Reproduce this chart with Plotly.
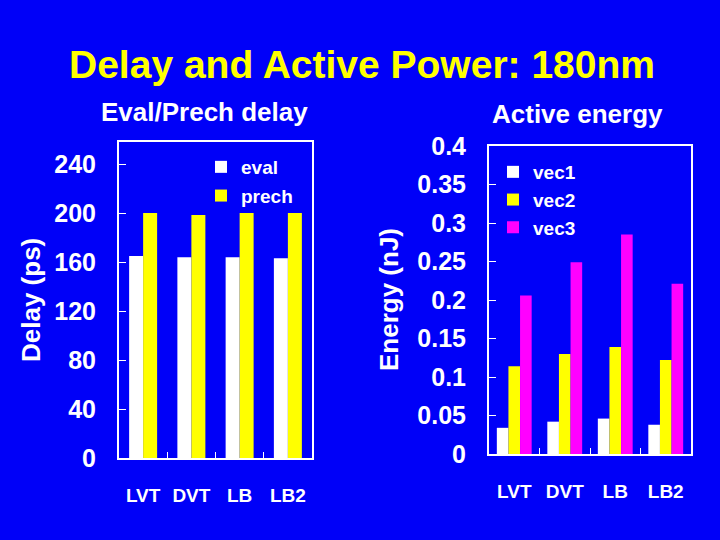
import plotly.graph_objects as go

categories = ["LVT", "DVT", "LB", "LB2"]

eval_delay = [165, 164, 164, 163]
prech_delay = [200, 198.5, 200, 200]

vec1_energy = [0.034, 0.042, 0.046, 0.038]
vec2_energy = [0.114, 0.130, 0.139, 0.122]
vec3_energy = [0.206, 0.249, 0.285, 0.221]

delay_ticks = [0, 40, 80, 120, 160, 200, 240]
energy_ticks = [0, 0.05, 0.1, 0.15, 0.2, 0.25, 0.3, 0.35, 0.4]

BG = "#0000F8"
FONT = "Liberation Sans, Arial, sans-serif"

fig = go.Figure()

# Left chart
lw = 0.29
fig.add_trace(go.Bar(x=categories, y=eval_delay, name="eval", marker_color="white",
                     marker_line_width=0, width=lw, offset=-lw,
                     xaxis="x", yaxis="y", legend="legend", legendgroup="a"))
fig.add_trace(go.Bar(x=categories, y=prech_delay, name="prech", marker_color="#FFFF00",
                     marker_line_width=0, width=lw, offset=0,
                     xaxis="x", yaxis="y", legend="legend", legendgroup="b"))

# Right chart
rw = 0.23
fig.add_trace(go.Bar(x=categories, y=vec1_energy, name="vec1", marker_color="white",
                     marker_line_width=0, width=rw, offset=-1.5 * rw,
                     xaxis="x2", yaxis="y2", legend="legend2", legendgroup="c"))
fig.add_trace(go.Bar(x=categories, y=vec2_energy, name="vec2", marker_color="#FFFF00",
                     marker_line_width=0, width=rw, offset=-0.5 * rw,
                     xaxis="x2", yaxis="y2", legend="legend2", legendgroup="d"))
fig.add_trace(go.Bar(x=categories, y=vec3_energy, name="vec3", marker_color="#FF00FF",
                     marker_line_width=0, width=rw, offset=0.5 * rw,
                     xaxis="x2", yaxis="y2", legend="legend2", legendgroup="e"))

tickfont = dict(family=FONT, size=25, color="white", weight="bold")
xtickfont = dict(family=FONT, size=19, color="white", weight="bold")

axis_common = dict(showline=True, mirror=True, linecolor="white", linewidth=2,
                   showgrid=False, zeroline=False, ticks="inside", tickcolor="white",
                   automargin=False)

fig.update_layout(
    width=720, height=540,
    autosize=False,
    paper_bgcolor=BG, plot_bgcolor=BG,
    margin=dict(l=0, r=0, t=0, b=0),
    barmode="overlay",
    font=dict(family=FONT, color="white"),
    xaxis=dict(domain=[119 / 720, 312 / 720], anchor="y", type="category",
               tickson="boundaries", ticklen=6, tickfont=xtickfont,
               ticklabelstandoff=19, **axis_common),
    yaxis=dict(domain=[1 - 458 / 540, 1 - 142 / 540], anchor="x", range=[0, 258],
               tickvals=delay_ticks, ticklen=7, tickfont=tickfont,
               ticklabelstandoff=16, **axis_common),
    xaxis2=dict(domain=[489 / 720, 691 / 720], anchor="y2", type="category",
                tickson="boundaries", ticklen=6, tickfont=xtickfont,
                ticklabelstandoff=19, **axis_common),
    yaxis2=dict(domain=[1 - 454 / 540, 1 - 146 / 540], anchor="x2", range=[0, 0.4],
                tickvals=energy_ticks, ticklen=7, tickfont=tickfont,
                ticklabelstandoff=16, **axis_common),
    legend=dict(x=201 / 720, y=1 - 148 / 540, xanchor="left", yanchor="top",
                bgcolor="rgba(0,0,0,0)", tracegroupgap=1,
                font=dict(family=FONT, size=19, color="white", weight="bold")),
    legend2=dict(x=493 / 720, y=1 - 153 / 540, xanchor="left", yanchor="top",
                 bgcolor="rgba(0,0,0,0)", tracegroupgap=0,
                 font=dict(family=FONT, size=19, color="white", weight="bold")),
    showlegend=True,
)

annotations = [
    dict(text="<b>Delay and Active Power: 180nm</b>", x=362 / 720, y=1 - 65 / 540,
         font=dict(family=FONT, size=39, color="#FFFF00")),
    dict(text="<b>Eval/Prech delay</b>", x=204 / 720, y=1 - 112 / 540,
         font=dict(family=FONT, size=26, color="white")),
    dict(text="<b>Active energy</b>", x=577 / 720, y=1 - 114 / 540,
         font=dict(family=FONT, size=26, color="white")),
    dict(text="<b>Delay (ps)</b>", x=31 / 720, y=1 - 300 / 540, textangle=-90,
         font=dict(family=FONT, size=26, color="white")),
    dict(text="<b>Energy (nJ)</b>", x=389 / 720, y=1 - 300 / 540, textangle=-90,
         font=dict(family=FONT, size=26, color="white")),
]
for a in annotations:
    a.update(xref="paper", yref="paper", showarrow=False, xanchor="center", yanchor="middle")
fig.update_layout(annotations=annotations)

fig.write_html(
    "out.html",
    config={"responsive": False, "displayModeBar": False},
    post_script="document.body.style.margin='0';document.body.style.overflow='hidden';",
)
